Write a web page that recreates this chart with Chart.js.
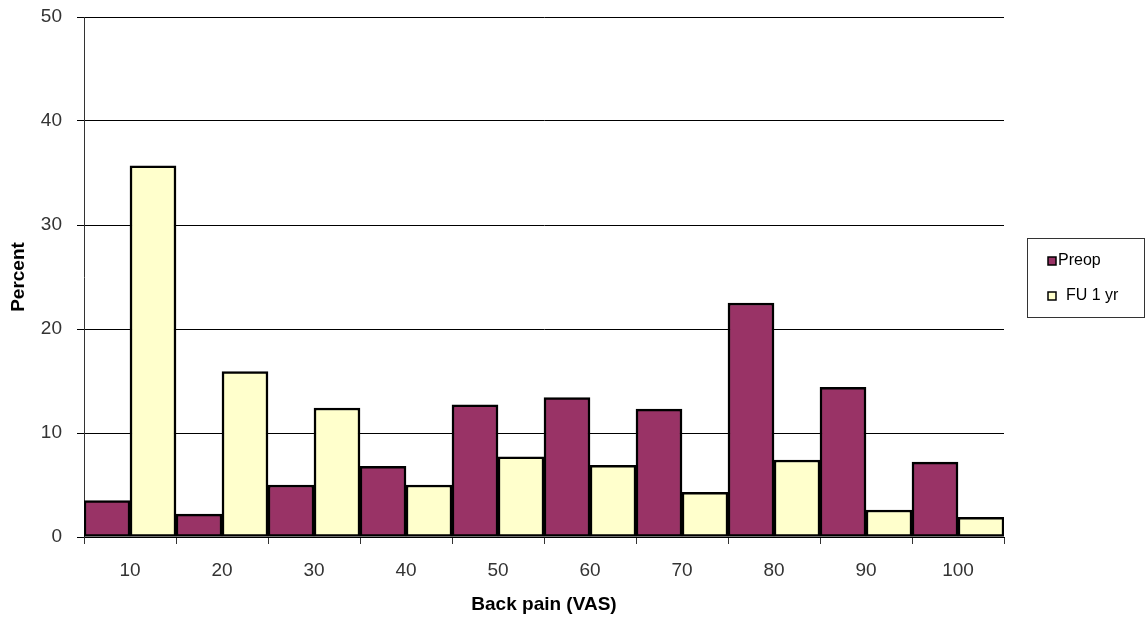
<!DOCTYPE html>
<html>
<head>
<meta charset="utf-8">
<script src="https://cdn.jsdelivr.net/npm/chart.js@4"></script>
<style>
  html, body { margin: 0; padding: 0; background: #fff; }
  #wrap { width: 1146px; height: 621px; }
</style>
</head>
<body>
<div id="wrap"><canvas id="chart" width="1146" height="621"></canvas></div>
<script>
// Chart data
const categories = ['10', '20', '30', '40', '50', '60', '70', '80', '90', '100'];
const preopValues = [3.5, 2.2, 5.0, 6.8, 12.7, 13.4, 12.3, 22.5, 14.4, 7.2];
const fuValues = [35.7, 15.9, 12.4, 5.0, 7.7, 6.9, 4.3, 7.4, 2.6, 1.9];
const yTicks = [0, 10, 20, 30, 40, 50];

// Legend drawn in a framed box on the right, like the original
const boxLegend = {
    id: 'boxLegend',
    afterDraw(chart) {
        const ctx = chart.ctx;
        ctx.save();
        ctx.strokeStyle = '#333';
        ctx.lineWidth = 1;
        ctx.strokeRect(1027.5, 238.5, 117, 79);
        const rows = [261, 296];
        chart.data.datasets.forEach((ds, i) => {
            const y = rows[i];
            ctx.fillStyle = ds.backgroundColor;
            ctx.fillRect(1048, y - 4, 8, 8);
            ctx.strokeStyle = '#000';
            ctx.lineWidth = 1.5;
            ctx.strokeRect(1048, y - 4, 8, 8);
            ctx.fillStyle = '#000';
            ctx.font = '16px "Liberation Sans", Arial, sans-serif';
            ctx.textBaseline = 'middle';
            ctx.fillText(ds.label, i === 0 ? 1058 : 1066, y);
        });
        ctx.restore();
    }
};

const ctx = document.getElementById('chart').getContext('2d');
new Chart(ctx, {
    type: 'bar',
    data: {
        labels: categories,
        datasets: [{
            label: 'Preop',
            data: preopValues,
            backgroundColor: '#993366',
            borderColor: '#000',
            borderWidth: 2.5,
            borderSkipped: false
        }, {
            label: 'FU 1 yr',
            data: fuValues,
            backgroundColor: '#FFFFCC',
            borderColor: '#000',
            borderWidth: 2.5,
            borderSkipped: false
        }]
    },
    plugins: [boxLegend],
    options: {
        responsive: false,
        animation: false,
        categoryPercentage: 1,
        barPercentage: 1,
        layout: {
            padding: { top: 17, right: 142, left: 0, bottom: 0 }
        },
        plugins: {
            legend: { display: false },
            tooltip: { enabled: false }
        },
        scales: {
            x: {
                offset: true,
                afterFit: scale => {
                    scale.height = 84;
                    scale.paddingLeft = 0;
                    scale.paddingRight = 0;
                },
                grid: {
                    offset: true,
                    drawOnChartArea: false,
                    drawTicks: true,
                    tickLength: 7,
                    color: '#333'
                },
                border: { display: true, color: '#000' },
                ticks: {
                    padding: 15,
                    color: '#333',
                    font: { family: '"Liberation Sans", Arial, sans-serif', size: 19 }
                },
                title: {
                    display: true,
                    text: 'Back pain (VAS)',
                    color: '#000',
                    padding: { top: 0, bottom: 5 },
                    font: { family: '"Liberation Sans", Arial, sans-serif', size: 19, weight: 'bold' }
                }
            },
            y: {
                min: 0,
                max: 50,
                afterFit: scale => {
                    scale.width = 84;
                    scale.paddingTop = 0;
                    scale.paddingBottom = 0;
                },
                afterBuildTicks: scale => {
                    scale.ticks = yTicks.map(v => ({ value: v }));
                },
                grid: {
                    color: '#000',
                    lineWidth: 1,
                    tickLength: 7
                },
                border: { display: true, color: '#333' },
                ticks: {
                    padding: 15,
                    color: '#333',
                    font: { family: '"Liberation Sans", Arial, sans-serif', size: 19 }
                },
                title: {
                    display: true,
                    text: 'Percent',
                    color: '#000',
                    padding: { top: 7, bottom: 0 },
                    font: { family: '"Liberation Sans", Arial, sans-serif', size: 19, weight: 'bold' }
                }
            }
        }
    }
});
</script>
</body>
</html>
